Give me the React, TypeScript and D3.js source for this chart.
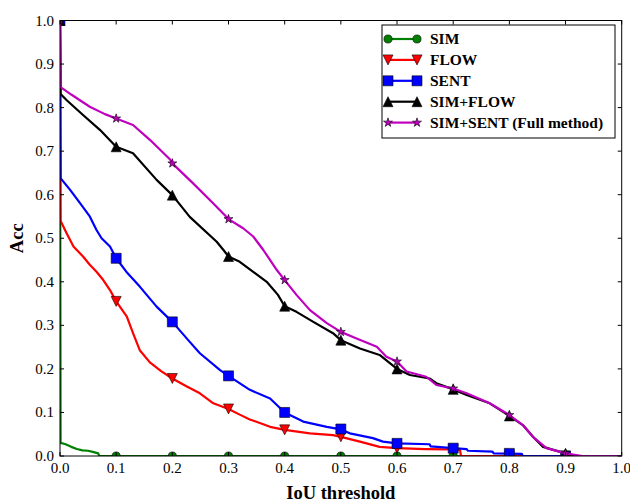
import React from "react";
import * as d3 from "d3";

const seriesNames = ["SIM", "FLOW", "SENT", "SIM+FLOW", "SIM+SENT (Full method)"];
const seriesColors = ["#008000", "#ff0000", "#0000ff", "#000000", "#bf00bf"];
const seriesMarkers = ["circle", "triangleDown", "square", "triangleUp", "star"];

const simX = [0, 0.001, 0.01, 0.02, 0.03, 0.04, 0.05, 0.06, 0.068, 0.07, 1.0];
const simY = [1.0, 0.03, 0.027, 0.021, 0.016, 0.013, 0.012, 0.009, 0.006, 0.0, 0.0];

const flowX = [0, 0.001, 0.012, 0.024, 0.041, 0.053, 0.065, 0.077, 0.089, 0.1, 0.119, 0.13, 0.142, 0.16, 0.18, 0.2, 0.225, 0.249, 0.273, 0.3, 0.32, 0.338, 0.374, 0.4, 0.445, 0.486, 0.5, 0.534, 0.569, 0.6, 0.65, 0.694, 0.712, 0.714, 1.0];
const flowY = [1, 0.54, 0.511, 0.481, 0.458, 0.439, 0.423, 0.404, 0.381, 0.355, 0.32, 0.282, 0.243, 0.215, 0.195, 0.178, 0.16, 0.144, 0.121, 0.108, 0.095, 0.084, 0.067, 0.06, 0.052, 0.048, 0.044, 0.033, 0.021, 0.018, 0.016, 0.015, 0.014, 0, 0];

const sentX = [0, 0.001, 0.018, 0.036, 0.053, 0.065, 0.074, 0.089, 0.1, 0.12, 0.142, 0.172, 0.2, 0.231, 0.249, 0.285, 0.3, 0.338, 0.374, 0.4, 0.433, 0.475, 0.5, 0.516, 0.557, 0.575, 0.6, 0.658, 0.66, 0.7, 0.724, 0.726, 0.77, 0.772, 0.822, 0.824, 1.0];
const sentY = [1, 0.638, 0.611, 0.58, 0.55, 0.519, 0.5, 0.481, 0.454, 0.42, 0.389, 0.343, 0.308, 0.262, 0.236, 0.197, 0.184, 0.152, 0.132, 0.1, 0.079, 0.067, 0.061, 0.052, 0.041, 0.033, 0.029, 0.027, 0.022, 0.018, 0.016, 0.012, 0.01, 0.006, 0.005, 0, 0];

const simFlowX = [0, 0.001, 0.012, 0.041, 0.071, 0.1, 0.13, 0.172, 0.2, 0.231, 0.279, 0.291, 0.3, 0.32, 0.344, 0.368, 0.388, 0.4, 0.421, 0.451, 0.486, 0.5, 0.534, 0.569, 0.6, 0.623, 0.658, 0.67, 0.7, 0.724, 0.765, 0.8, 0.824, 0.842, 0.86, 0.9, 0.919, 1.0];
const simFlowY = [1, 0.831, 0.817, 0.783, 0.749, 0.71, 0.695, 0.634, 0.599, 0.549, 0.492, 0.473, 0.458, 0.446, 0.423, 0.4, 0.37, 0.344, 0.331, 0.308, 0.282, 0.266, 0.247, 0.232, 0.2, 0.186, 0.178, 0.167, 0.153, 0.14, 0.121, 0.092, 0.071, 0.044, 0.021, 0.006, 0, 0];

const simSentX = [0, 0.001, 0.02, 0.053, 0.08, 0.1, 0.13, 0.16, 0.196, 0.2, 0.237, 0.273, 0.3, 0.326, 0.344, 0.362, 0.386, 0.4, 0.421, 0.445, 0.475, 0.5, 0.528, 0.564, 0.581, 0.6, 0.617, 0.652, 0.67, 0.7, 0.724, 0.765, 0.8, 0.824, 0.842, 0.866, 0.9, 0.919, 0.93, 1.0];
const simSentY = [1, 0.847, 0.83, 0.802, 0.785, 0.775, 0.76, 0.726, 0.681, 0.672, 0.626, 0.58, 0.544, 0.523, 0.504, 0.473, 0.427, 0.404, 0.37, 0.335, 0.305, 0.285, 0.27, 0.251, 0.228, 0.217, 0.194, 0.182, 0.163, 0.155, 0.144, 0.121, 0.094, 0.071, 0.044, 0.018, 0.006, 0.002, 0, 0];

const markerX = [0, 0.1, 0.2, 0.3, 0.4, 0.5, 0.6, 0.7, 0.8, 0.9];
const simMarks = [1, 0, 0, 0, 0, 0, 0, 0, 0, 0];
const flowMarks = [1, 0.355, 0.178, 0.108, 0.06, 0.044, 0.018, 0.015, 0, 0];
const sentMarks = [1, 0.454, 0.308, 0.184, 0.1, 0.062, 0.029, 0.018, 0.006, 0];
const simFlowMarks = [1, 0.71, 0.599, 0.458, 0.344, 0.266, 0.2, 0.153, 0.092, 0.006];
const simSentMarks = [1, 0.775, 0.672, 0.544, 0.404, 0.285, 0.217, 0.155, 0.094, 0.006];

const xTicks = [0, 0.1, 0.2, 0.3, 0.4, 0.5, 0.6, 0.7, 0.8, 0.9, 1.0];
const yTicks = [0, 0.1, 0.2, 0.3, 0.4, 0.5, 0.6, 0.7, 0.8, 0.9, 1.0];

const seriesXs = [simX, flowX, sentX, simFlowX, simSentX];
const seriesYs = [simY, flowY, sentY, simFlowY, simSentY];
const seriesMarks = [simMarks, flowMarks, sentMarks, simFlowMarks, simSentMarks];

const W = 630, H = 503;
const L = 60, R = 621.7, T = 20.5, B = 456;
const FONT = "'Liberation Serif', 'Times New Roman', serif";

function markerPath(kind: string, s: number): string {
  const h = s / 2;
  if (kind === "circle") {
    const r = h * 0.9;
    return `M${-r},0A${r},${r} 0 1,0 ${r},0A${r},${r} 0 1,0 ${-r},0Z`;
  }
  if (kind === "square") return `M${-h},${-h}H${h}V${h}H${-h}Z`;
  if (kind === "triangleUp") return `M0,${-h}L${h},${h}L${-h},${h}Z`;
  if (kind === "triangleDown") return `M0,${h}L${h},${-h}L${-h},${-h}Z`;
  const pts: string[] = [];
  const ro = h * 1.05, ri = ro * 0.381966;
  for (let i = 0; i < 10; i++) {
    const a = (Math.PI / 5) * i - Math.PI / 2;
    const r = i % 2 === 0 ? ro : ri;
    pts.push(`${(r * Math.cos(a)).toFixed(2)},${(r * Math.sin(a)).toFixed(2)}`);
  }
  return "M" + pts.join("L") + "Z";
}

const markerSize = [9, 10, 10, 10, 9];

export default function App() {
  const x = d3.scaleLinear().domain([0, 1]).range([L, R]);
  const y = d3.scaleLinear().domain([0, 1]).range([B, T]);
  const line = d3.line<[number, number]>().x((d) => x(d[0])).y((d) => y(d[1]));

  return (
    <svg width={W} height={H} style={{ position: "absolute", left: 0, top: 0, background: "#fff" }}>
      <defs>
        <clipPath id="plotclip">
          <rect x={L} y={T} width={R - L} height={B - T} />
        </clipPath>
      </defs>
      <rect x={0} y={0} width={W} height={H} fill="#fff" />
      <g clipPath="url(#plotclip)">
        {seriesNames.map((name, i) => {
          const pts: [number, number][] = seriesXs[i].map((v, j) => [v, seriesYs[i][j]]);
          return (
            <g key={name}>
              <path d={line(pts) || ""} fill="none" stroke={seriesColors[i]} strokeWidth={2.2} strokeLinejoin="round" />
              {markerX.map((mx, j) => (
                <path
                  key={j}
                  d={markerPath(seriesMarkers[i], markerSize[i])}
                  transform={`translate(${x(mx)},${y(seriesMarks[i][j])})`}
                  fill={seriesColors[i]}
                  stroke="#000"
                  strokeWidth={0.6}
                />
              ))}
            </g>
          );
        })}
      </g>
      {xTicks.map((t) => (
        <g key={"xt" + t}>
          <line x1={x(t)} x2={x(t)} y1={B} y2={B - 4} stroke="#000" strokeWidth={1} />
          <line x1={x(t)} x2={x(t)} y1={T} y2={T + 4} stroke="#000" strokeWidth={1} />
          <text x={x(t)} y={473} textAnchor="middle" fontFamily={FONT} fontSize={15} fill="#000">
            {t.toFixed(1)}
          </text>
        </g>
      ))}
      {yTicks.map((t) => (
        <g key={"yt" + t}>
          <line x1={L} x2={L + 4} y1={y(t)} y2={y(t)} stroke="#000" strokeWidth={1} />
          <line x1={R} x2={R - 4} y1={y(t)} y2={y(t)} stroke="#000" strokeWidth={1} />
          <text x={54} y={y(t) + 5} textAnchor="end" fontFamily={FONT} fontSize={15} fill="#000">
            {t.toFixed(1)}
          </text>
        </g>
      ))}
      <rect x={L} y={T} width={R - L} height={B - T} fill="none" stroke="#000" strokeWidth={1} />
      <text x={(L + R) / 2} y={499} textAnchor="middle" fontFamily={FONT} fontSize={18.5} fontWeight="bold" fill="#000">
        IoU threshold
      </text>
      <text
        transform={`translate(23,${(T + B) / 2}) rotate(-90)`}
        textAnchor="middle"
        fontFamily={FONT}
        fontSize={18.5}
        fontWeight="bold"
        fill="#000"
      >
        Acc
      </text>
      <g>
        <rect x={382} y={25} width={233} height={113} fill="#fff" stroke="#000" strokeWidth={1} />
        {seriesNames.map((name, i) => {
          const ly = 39 + i * 20.9;
          return (
            <g key={"lg" + name}>
              <line x1={388} x2={417} y1={ly} y2={ly} stroke={seriesColors[i]} strokeWidth={2.2} />
              {[388, 417].map((lx) => (
                <path
                  key={lx}
                  d={markerPath(seriesMarkers[i], markerSize[i])}
                  transform={`translate(${lx},${ly})`}
                  fill={seriesColors[i]}
                  stroke="#000"
                  strokeWidth={0.6}
                />
              ))}
              <text x={430} y={ly + 5} fontFamily={FONT} fontSize={15.5} fontWeight="bold" fill="#000">
                {name}
              </text>
            </g>
          );
        })}
      </g>
    </svg>
  );
}
